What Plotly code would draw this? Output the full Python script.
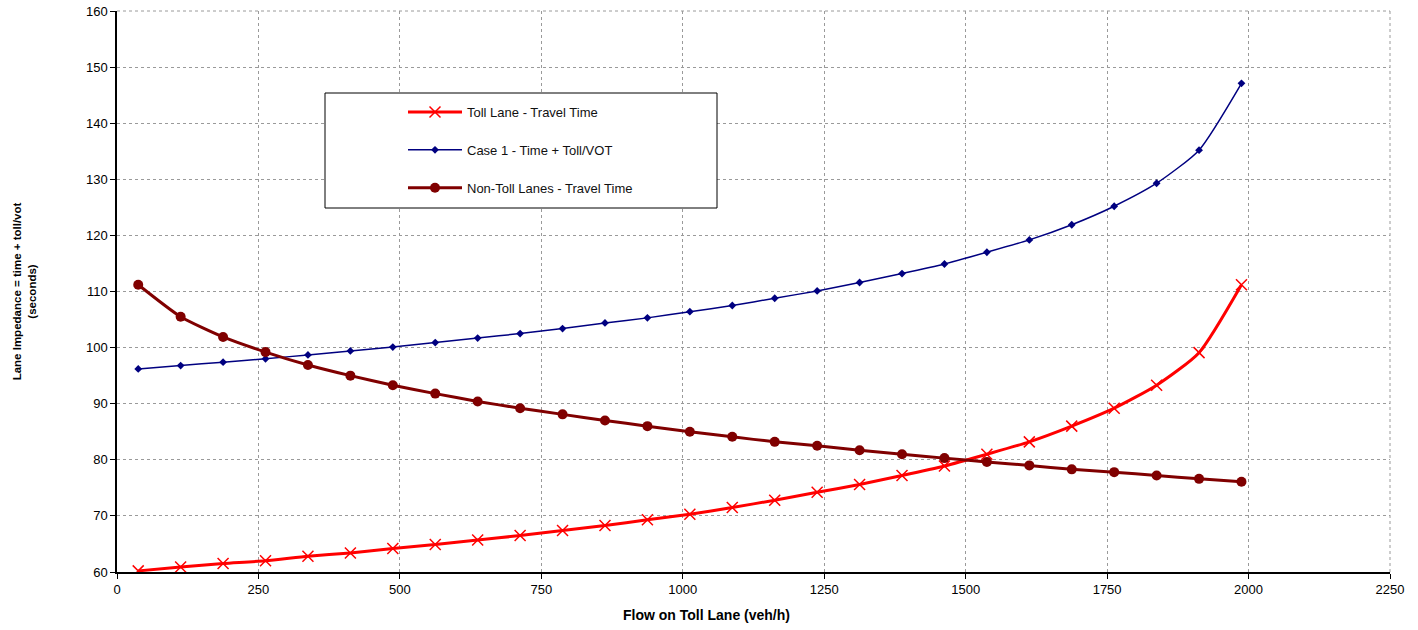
import plotly.graph_objects as go

flow = [37.5 + 75 * i for i in range(27)]

toll_time = [60.2, 60.9, 61.5, 62.0, 62.8, 63.4, 64.2, 64.9, 65.7, 66.5, 67.4, 68.3, 69.3, 70.3,
             71.5, 72.8, 74.2, 75.6, 77.2, 78.9, 81.0, 83.2, 86.0, 89.2, 93.3, 99.1, 111.2]
case1 = [96.2, 96.8, 97.4, 98.0, 98.7, 99.4, 100.1, 100.9, 101.7, 102.5, 103.4, 104.4, 105.3, 106.4,
         107.5, 108.8, 110.1, 111.6, 113.2, 114.9, 117.0, 119.2, 121.9, 125.2, 129.3, 135.2, 147.1]
nontoll = [111.2, 105.5, 101.9, 99.2, 96.9, 95.0, 93.3, 91.8, 90.4, 89.2, 88.1, 87.0, 86.0, 85.0,
           84.1, 83.2, 82.5, 81.7, 81.0, 80.3, 79.6, 79.0, 78.3, 77.8, 77.2, 76.6, 76.1]

names = ["Toll Lane - Travel Time", "Case 1 - Time + Toll/VOT", "Non-Toll Lanes - Travel Time"]
x_ticks = [0, 250, 500, 750, 1000, 1250, 1500, 1750, 2000, 2250]
y_ticks = [60, 70, 80, 90, 100, 110, 120, 130, 140, 150, 160]

FONT = "Liberation Sans, Arial, sans-serif"

fig = go.Figure()
fig.add_trace(go.Scatter(
    x=flow, y=toll_time, name=names[0], mode="lines+markers", legendgroup="a",
    line=dict(color="#FF0000", width=3, shape="spline", smoothing=0.6),
    marker=dict(symbol="x-thin-open", size=11, color="#FF0000", line=dict(color="#FF0000", width=1.5)),
))
fig.add_trace(go.Scatter(
    x=flow, y=case1, name=names[1], mode="lines+markers", legendgroup="b",
    line=dict(color="#000080", width=1.5, shape="spline", smoothing=0.6),
    marker=dict(symbol="diamond", size=6, color="#000080"),
))
fig.add_trace(go.Scatter(
    x=flow, y=nontoll, name=names[2], mode="lines+markers", legendgroup="c",
    line=dict(color="#800000", width=3, shape="spline", smoothing=0.6),
    marker=dict(symbol="circle", size=10, color="#800000"),
))

L, R, T, B = 117, 28, 11, 58
W, H = 1418, 630
pw, ph = W - L - R, H - T - B

def px(xp):
    return (xp - L) / pw

def py(yp):
    return (H - B - yp) / ph

fig.add_shape(type="rect", xref="paper", yref="paper",
              x0=px(325), x1=px(717), y0=py(208), y1=py(93),
              line=dict(color="black", width=1), fillcolor="white", layer="above")

fig.add_annotation(text="<b>Flow on Toll Lane (veh/h)</b>", xref="paper", yref="paper",
                   x=px(706), y=py(615), xanchor="center", yanchor="middle",
                   showarrow=False, font=dict(family=FONT, size=14, color="black"))

fig.update_layout(
    width=W, height=H,
    margin=dict(l=L, r=R, t=T, b=B, autoexpand=False),
    paper_bgcolor="white", plot_bgcolor="white",
    font=dict(family=FONT, size=13, color="black"),
    showlegend=True,
    legend=dict(x=px(403), y=py(97), xanchor="left", yanchor="top",
                bgcolor="rgba(0,0,0,0)", borderwidth=0,
                font=dict(family=FONT, size=13, color="#111111"),
                tracegroupgap=18, itemwidth=54),
    xaxis=dict(range=[0, 2250], tickvals=x_ticks, ticktext=[str(v) for v in x_ticks],
               showgrid=True, gridcolor="#9a9a9a", griddash="dot", gridwidth=1,
               showline=True, linecolor="black", linewidth=1.5, automargin=False,
               ticks="outside", ticklen=5, tickcolor="black", zeroline=False,
               tickfont=dict(size=13)),
    yaxis=dict(range=[60, 160], tickvals=y_ticks, ticktext=[str(v) for v in y_ticks],
               showgrid=True, gridcolor="#9a9a9a", griddash="dot", gridwidth=1,
               showline=True, linecolor="black", linewidth=1.5, automargin=False,
               ticks="outside", ticklen=5, tickcolor="black", zeroline=False,
               tickfont=dict(size=13),
               title=dict(text="<b>Lane Impedance = time + toll/vot<br>(seconds)</b>",
                          font=dict(size=11.5), standoff=47)),
)
# right and top frame lines are dotted gridlines in the original
fig.add_shape(type="line", xref="paper", yref="paper", x0=1, x1=1, y0=0, y1=1,
              line=dict(color="#9a9a9a", width=1, dash="dot"))
fig.add_shape(type="line", xref="paper", yref="paper", x0=0, x1=1, y0=1, y1=1,
              line=dict(color="#9a9a9a", width=1, dash="dot"))

fig.write_html("out.html")
